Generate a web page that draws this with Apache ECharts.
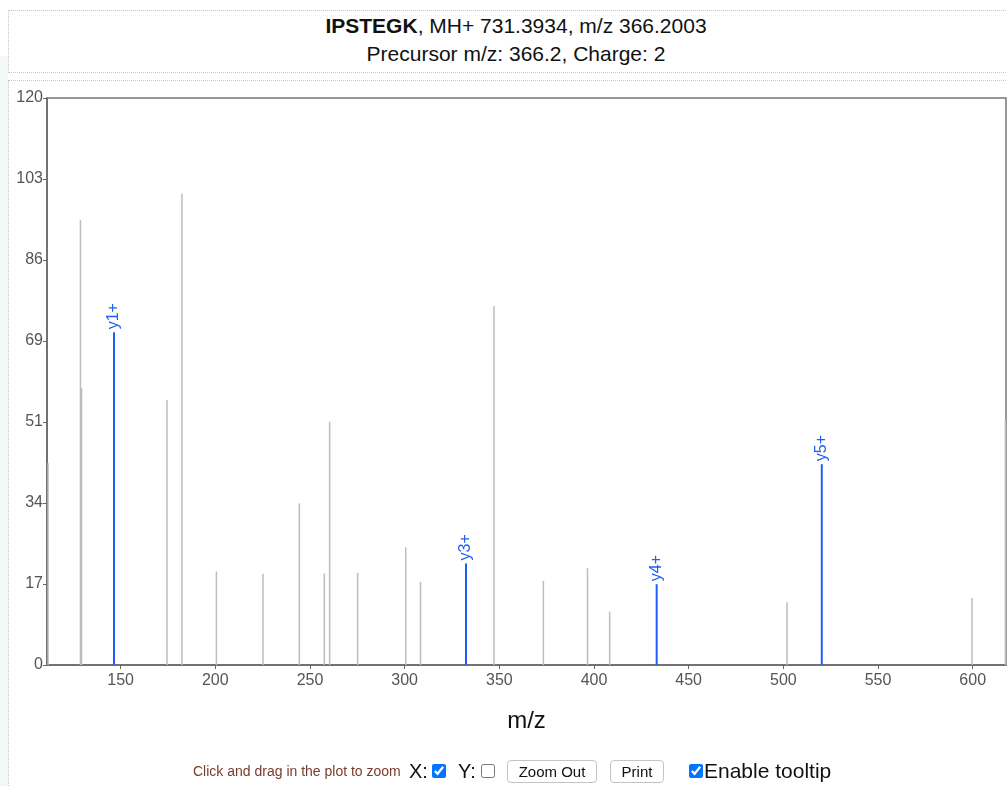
<!DOCTYPE html>
<html lang="en">
<head>
  <meta charset="utf-8">
  <script type="text/javascript" src="https://cdn.jsdelivr.net/npm/echarts@6/dist/echarts.min.js"></script>
  <style>
    body { margin: 0; width: 1007px; height: 786px; overflow: hidden; position: relative; background: #fff; font-family: "Liberation Sans", Arial, sans-serif; }
    .strip { position: absolute; left: 0; top: 56px; width: 8px; height: 740px; background: #f3f7f8; }
    .box { position: absolute; left: 8px; width: 1030px; border: 1px dotted #c6c6c6; }
    #titlebox { top: 10px; height: 61px; }
    #plotbox { top: 80px; height: 720px; }
    #title { position: absolute; left: 0; top: 12px; width: 1032px; text-align: center; font-size: 21px; line-height: 28px; color: #111; }
    #container { position: absolute; left: 0; top: 0; width: 1007px; height: 786px; }
    .ctl { position: absolute; top: 757px; height: 28px; line-height: 28px; white-space: nowrap; color: #111; }
    .hint { font-size: 14px; color: #7b3a2a; }
    input.ctl { top: 764px; width: 14px; height: 14px; margin: 0; }
    button.ctl { top: 760px; height: 23px; line-height: 19px; font-size: 15px; font-family: inherit; background: #fff; border: 1px solid #c4c4c4; border-radius: 4px; padding: 0; color: #111; }
  </style>
</head>

<body>
  <div class="strip"></div>
  <div class="box" id="titlebox"></div>
  <div class="box" id="plotbox"></div>
  <div id="title">
    <div><b>IPSTEGK</b>, MH+ 731.3934, m/z 366.2003</div>
    <div>Precursor m/z: 366.2, Charge: 2</div>
  </div>
  <div id="container"></div>
  <span class="ctl hint" style="left:193px">Click and drag in the plot to zoom</span>
  <span class="ctl" style="left:409px; font-size:20px">X:</span>
  <input class="ctl" type="checkbox" checked style="left:432px">
  <span class="ctl" style="left:458px; font-size:20px">Y:</span>
  <input class="ctl" type="checkbox" style="left:481px">
  <button class="ctl" style="left:507px; width:90px">Zoom Out</button>
  <button class="ctl" style="left:610px; width:54px">Print</button>
  <input class="ctl" type="checkbox" checked style="left:689px">
  <span class="ctl" style="left:704px; font-size:21px">Enable tooltip</span>
  <script type="text/javascript">
    // unmatched peaks (m/z, intensity)
    var peakMz = [111.8, 128.9, 129.5, 174.6, 182.5, 200.7, 225.3, 244.5, 257.7, 260.5, 275.3,
      300.7, 308.5, 347.3, 373.4, 396.7, 408.4, 502.1, 599.8, 617.4];
    var peakInt = [42.7, 94.2, 58.6, 56.1, 99.8, 19.8, 19.3, 34.2, 19.4, 51.5, 19.5,
      24.9, 17.6, 76.0, 17.8, 20.5, 11.3, 13.3, 14.2, 51.9];

    // matched y ions
    var ionMz = [146.5, 332.4, 433.1, 520.3];
    var ionInt = [70.4, 21.5, 17.1, 42.5];
    var ionLabels = ['y1+', 'y3+', 'y4+', 'y5+'];

    var xTicks = [150, 200, 250, 300, 350, 400, 450, 500, 550, 600];

    var grayData = peakMz.map(function(m, i) { return [m, peakInt[i]]; });
    var ionData = ionMz.map(function(m, i) { return { name: ionLabels[i], value: [m, ionInt[i]] }; });

    var myChart = echarts.init(document.getElementById('container'));

    var option = {
      animation: false,
      grid: {
        left: 47,
        top: 98,
        right: 1,
        bottom: 121,
        show: true,
        borderColor: '#777',
        borderWidth: 1.5
      },
      xAxis: {
        type: 'value',
        min: 111.1,
        max: 617.6,
        name: 'm/z',
        nameLocation: 'middle',
        nameGap: 44,
        nameTextStyle: { fontSize: 24, color: '#111', fontFamily: 'Liberation Sans' },
        axisLine: { lineStyle: { color: '#666', width: 1.5 } },
        axisTick: { customValues: xTicks, length: 4, lineStyle: { color: '#666' } },
        axisLabel: { customValues: xTicks, fontSize: 16, color: '#555', margin: 8, fontFamily: 'Liberation Sans' },
        splitLine: { show: false }
      },
      yAxis: {
        type: 'value',
        min: 0,
        max: 120,
        interval: 120 / 7,
        axisLine: { show: true, lineStyle: { color: '#666', width: 1.5 } },
        axisTick: { show: true, length: 4, lineStyle: { color: '#666' } },
        axisLabel: {
          fontSize: 16,
          color: '#555',
          margin: 4,
          fontFamily: 'Liberation Sans',
          formatter: function(v) { return Math.round(v); }
        },
        splitLine: { show: false }
      },
      series: [{
        type: 'bar',
        data: grayData,
        barWidth: 1.5,
        barGap: '-100%',
        itemStyle: { color: '#bdbdbd' }
      }, {
        type: 'bar',
        data: ionData,
        barWidth: 2,
        barGap: '-100%',
        itemStyle: { color: '#1f5ef6' },
        label: {
          show: true,
          position: 'top',
          rotate: 90,
          align: 'left',
          verticalAlign: 'middle',
          distance: 3,
          fontSize: 16,
          color: '#1f5ef6',
          fontFamily: 'Liberation Sans',
          formatter: '{b}'
        }
      }]
    };
    myChart.setOption(option);
  </script>
</body>

</html>
